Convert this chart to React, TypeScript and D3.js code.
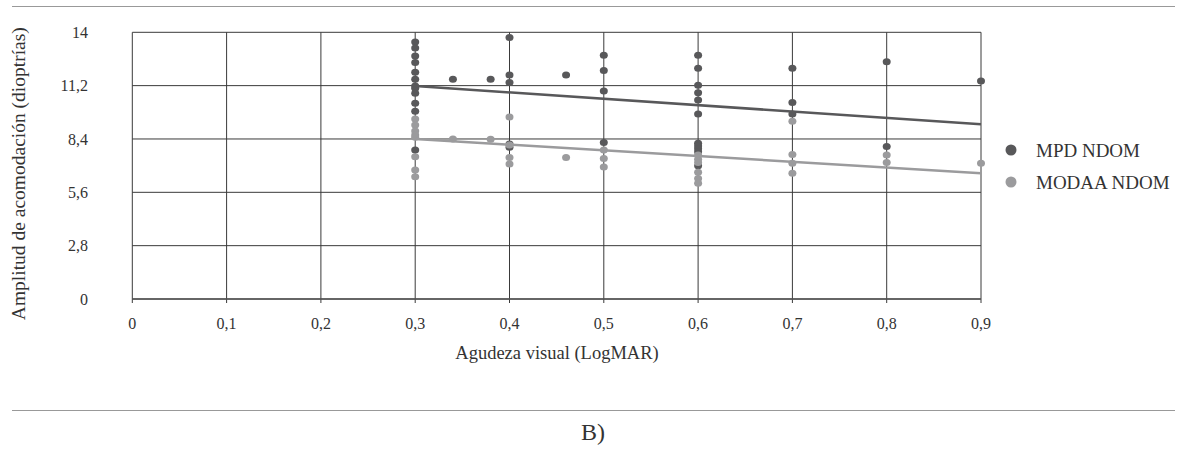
import React from "react";
import * as d3 from "d3";

const xTicks = [0, 0.1, 0.2, 0.3, 0.4, 0.5, 0.6, 0.7, 0.8, 0.9];
const yTicks = [0, 2.8, 5.6, 8.4, 11.2, 14];

const mpdPoints: [number, number][] = [
  [0.3, 13.49], [0.3, 13.18], [0.3, 12.76], [0.3, 12.42], [0.3, 11.9], [0.3, 11.53],
  [0.3, 11.18], [0.3, 11.06], [0.3, 10.8], [0.3, 10.27], [0.3, 9.85], [0.3, 7.82],
  [0.34, 11.53], [0.38, 11.53],
  [0.4, 13.73], [0.4, 11.76], [0.4, 11.37], [0.4, 8.14], [0.4, 7.96],
  [0.46, 11.76],
  [0.5, 12.79], [0.5, 12.0], [0.5, 10.92], [0.5, 8.22],
  [0.6, 12.79], [0.6, 12.11], [0.6, 11.22], [0.6, 10.83], [0.6, 10.45], [0.6, 9.71],
  [0.6, 8.17], [0.6, 8.03], [0.6, 7.89], [0.6, 7.73], [0.6, 7.0],
  [0.7, 12.11], [0.7, 10.31], [0.7, 9.71],
  [0.8, 12.46], [0.8, 8.0],
  [0.9, 11.44],
];

const modaaPoints: [number, number][] = [
  [0.3, 9.45], [0.3, 9.13], [0.3, 8.82], [0.3, 8.61], [0.3, 8.49], [0.3, 7.47],
  [0.3, 6.77], [0.3, 6.42],
  [0.34, 8.4], [0.38, 8.38],
  [0.4, 9.55], [0.4, 8.08], [0.4, 7.43], [0.4, 7.09],
  [0.46, 7.43],
  [0.5, 7.82], [0.5, 7.38], [0.5, 6.93],
  [0.6, 7.56], [0.6, 7.33], [0.6, 7.16], [0.6, 6.65], [0.6, 6.33], [0.6, 6.07],
  [0.7, 9.33], [0.7, 7.58], [0.7, 7.12], [0.7, 6.6],
  [0.8, 7.56], [0.8, 7.16],
  [0.9, 7.12],
];

const mpdTrend: [number, number][] = [[0.3, 11.18], [0.9, 9.17]];
const modaaTrend: [number, number][] = [[0.3, 8.4], [0.9, 6.6]];

const seriesNames = ["MPD NDOM", "MODAA NDOM"];
const darkColor = "#58585a";
const lightColor = "#9b9b9d";
const FONT = "Liberation Serif, Times New Roman, serif";

export default function App() {
  const W = 1185, H = 454;
  const x = d3.scaleLinear().domain([0, 0.9]).range([132.3, 981]);
  const y = d3.scaleLinear().domain([0, 14]).range([299, 32.3]);
  const fmt = (v: number) => String(v).replace(".", ",");
  const line = d3.line<[number, number]>().x(d => x(d[0])).y(d => y(d[1]));
  const ts = { fontFamily: FONT };

  return (
    <svg width={W} height={H} style={{ position: "absolute", left: 0, top: 0, background: "#fff", fontFamily: FONT }}>
      <line x1={12} x2={1175} y1={6.5} y2={6.5} stroke="#999" strokeWidth={1} />
      <line x1={12} x2={1175} y1={410.5} y2={410.5} stroke="#999" strokeWidth={1} />

      {yTicks.map(t => (
        <line key={"gy" + t} x1={x(0)} x2={x(0.9)} y1={y(t)} y2={y(t)} stroke="#3a3a3a" strokeWidth={1} />
      ))}
      {xTicks.map(t => (
        <line key={"gx" + t} x1={x(t)} x2={x(t)} y1={y(14)} y2={y(0) + 4} stroke="#3a3a3a" strokeWidth={1} />
      ))}
      <line x1={x(0)} x2={x(0.9)} y1={y(0)} y2={y(0)} stroke="#555" strokeWidth={1.5} />

      {yTicks.map(t => (
        <text key={"ty" + t} x={88} y={y(t)} dy="0.35em" textAnchor="end" style={ts} fontSize={16} fill="#333">{fmt(t)}</text>
      ))}
      {xTicks.map(t => (
        <text key={"tx" + t} x={x(t)} y={323} dy="0.35em" textAnchor="middle" style={ts} fontSize={16} fill="#333">{fmt(t)}</text>
      ))}

      <text transform={`translate(25,${(y(0) + y(14)) / 2 + 8}) rotate(-90)`} textAnchor="middle" style={ts} fontSize={19.5} fill="#333">Amplitud de acomodación (dioptrías)</text>
      <text x={557} y={353} dy="0.35em" textAnchor="middle" style={ts} fontSize={18.5} fill="#333">Agudeza visual (LogMAR)</text>
      <text x={593} y={432} dy="0.35em" textAnchor="middle" style={ts} fontSize={24} fill="#333">B)</text>

      {mpdPoints.map((d, i) => (
        <ellipse key={"m" + i} cx={x(d[0])} cy={y(d[1])} rx={4} ry={3.5} fill={darkColor} />
      ))}
      {modaaPoints.map((d, i) => (
        <ellipse key={"o" + i} cx={x(d[0])} cy={y(d[1])} rx={4} ry={3.5} fill={lightColor} />
      ))}

      <path d={line(mpdTrend) || ""} stroke={darkColor} strokeWidth={2.5} fill="none" />
      <path d={line(modaaTrend) || ""} stroke={lightColor} strokeWidth={2.5} fill="none" />

      {seriesNames.map((n, i) => (
        <g key={n} transform={`translate(1011,${150 + i * 32})`}>
          <circle r={5.5} fill={i === 0 ? darkColor : lightColor} />
          <text x={25} dy="0.35em" style={ts} fontSize={19} fill="#333">{n}</text>
        </g>
      ))}
    </svg>
  );
}
